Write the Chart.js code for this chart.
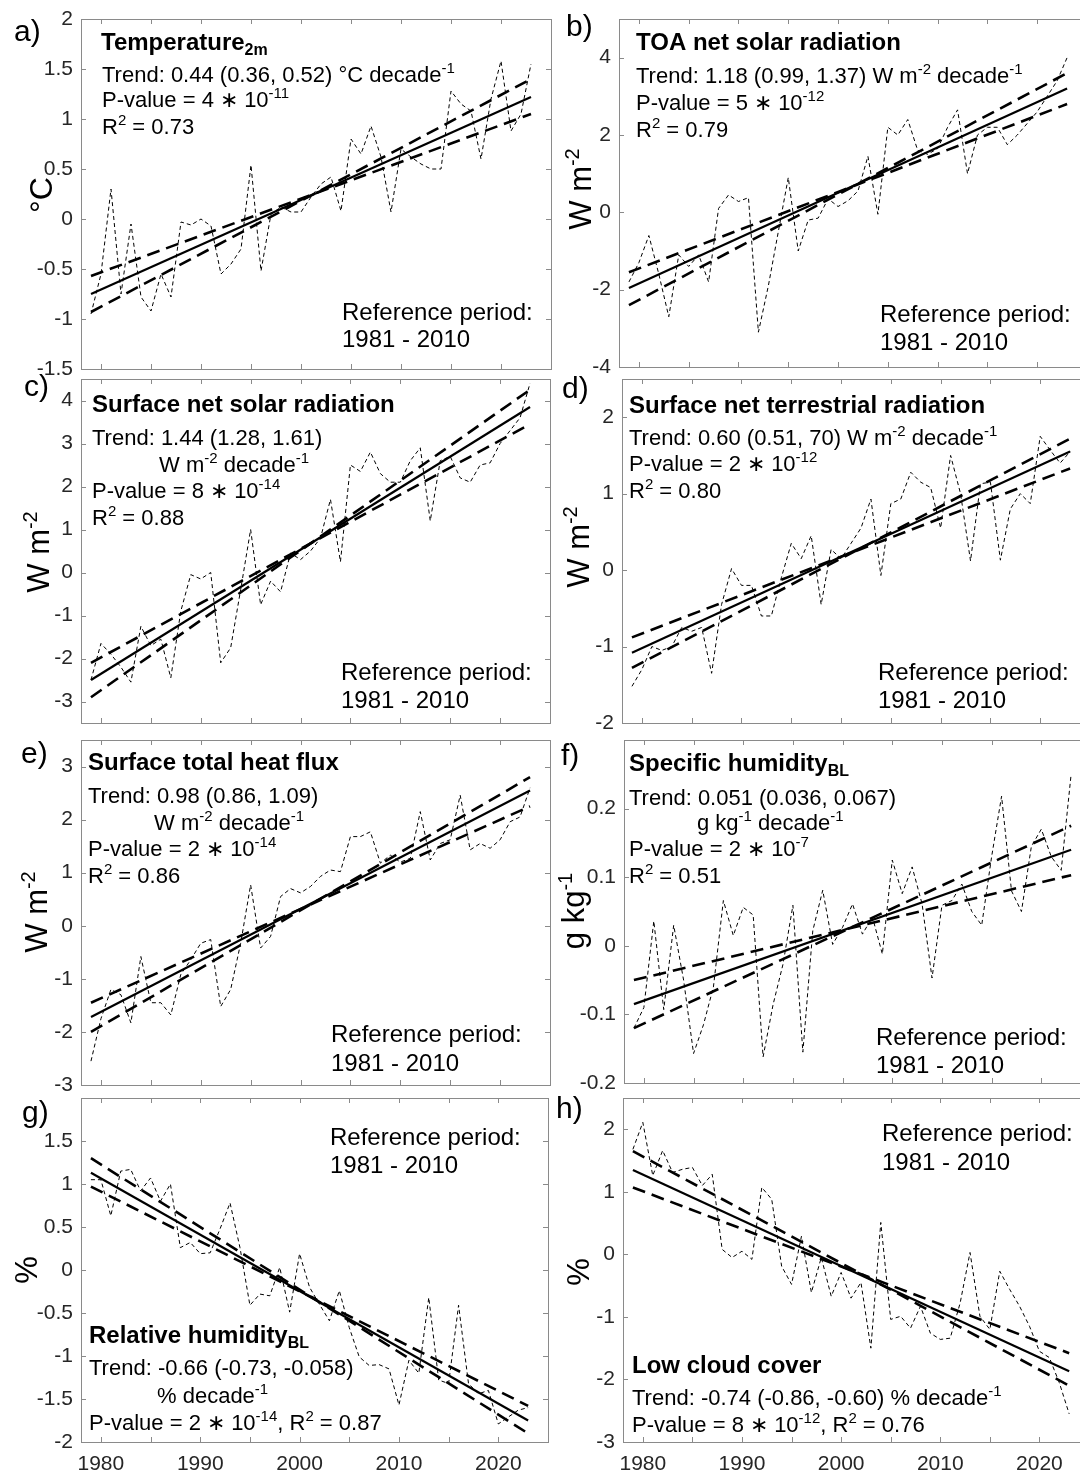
<!DOCTYPE html>
<html>
<head>
<meta charset="utf-8">
<script src="https://cdn.jsdelivr.net/npm/chart.js@4.4.1/dist/chart.umd.min.js"></script>
<style>
  html, body { margin: 0; padding: 0; background: #fff; }
  body { width: 1080px; height: 1473px; overflow: hidden; position: relative; }
  canvas { position: absolute; }
</style>
</head>
<body>
<script>
// ---- data ----
const years = [1979, 1980, 1981, 1982, 1983, 1984, 1985, 1986, 1987, 1988,
  1989, 1990, 1991, 1992, 1993, 1994, 1995, 1996, 1997, 1998,
  1999, 2000, 2001, 2002, 2003, 2004, 2005, 2006, 2007, 2008,
  2009, 2010, 2011, 2012, 2013, 2014, 2015, 2016, 2017, 2018,
  2019, 2020, 2021, 2022, 2023];
const trendYears = [1979, 2023];
const xTickValues = [1980, 1985, 1990, 1995, 2000, 2005, 2010, 2015, 2020];
const xTickLabels = ['1980', '', '1990', '', '2000', '', '2010', '', '2020'];

const t2mSeries = [-0.95, -0.55, 0.30, -0.75, -0.05, -0.78, -0.92, -0.55, -0.78, -0.03,
  -0.06, 0.0, -0.07, -0.55, -0.45, -0.30, 0.54, -0.52, 0.05, 0.12,
  0.07, 0.07, 0.22, 0.35, 0.42, 0.08, 0.80, 0.65, 0.93, 0.62,
  0.07, 0.70, 0.62, 0.55, 0.50, 0.50, 1.28, 1.15, 1.08, 0.60,
  1.20, 1.58, 0.88, 1.05, 1.55];
const t2mTrend = [-0.75, 1.22];
const t2mUpper = [-0.93, 1.40];
const t2mLower = [-0.57, 1.05];
const t2mTicks = [-1.5, -1, -0.5, 0, 0.5, 1, 1.5, 2];

const toaSeries = [-1.8, -1.3, -0.6, -1.6, -2.7, -1.1, -1.4, -1.1, -1.8, 0.1,
  0.45, 0.28, 0.38, -3.1, -1.9, -0.5, 0.9, -1.0, -0.2, -0.15,
  0.35, 0.15, 0.3, 0.55, 1.45, -0.05, 2.2, 2.0, 2.4, 1.6,
  1.5, 1.65, 2.2, 2.65, 1.0, 2.0, 2.2, 2.2, 1.75, 2.0,
  2.3, 2.6, 3.0, 3.4, 4.0];
const toaTrend = [-1.96, 3.2];
const toaUpper = [-2.4, 3.6];
const toaLower = [-1.55, 2.8];
const toaTicks = [-4, -2, 0, 2, 4];

const ssrSeries = [-2.5, -1.65, -1.9, -2.2, -2.55, -1.25, -1.7, -1.55, -2.45, -0.9,
  -0.05, -0.15, 0.0, -2.1, -1.75, -0.4, 1.0, -0.75, -0.2, -0.45,
  0.45, 0.3, 0.5, 0.8, 1.7, 0.25, 2.5, 2.35, 2.8, 2.3,
  2.1, 2.1, 2.6, 2.9, 1.2, 2.6, 2.7, 2.2, 2.1, 2.5,
  2.55, 3.0, 3.3, 3.6, 4.4];
const ssrTrend = [-2.5, 3.85];
const ssrUpper = [-2.9, 4.25];
const ssrLower = [-2.1, 3.45];
const ssrTicks = [-3, -2, -1, 0, 1, 2, 3, 4];

const strSeries = [-1.52, -1.3, -1.0, -1.05, -1.0, -0.75, -0.8, -0.75, -1.35, -0.45,
  0.02, -0.2, -0.2, -0.6, -0.6, -0.1, 0.35, 0.15, 0.45, -0.45,
  0.27, 0.15, 0.35, 0.55, 0.93, -0.07, 0.87, 0.93, 1.28, 1.15,
  1.08, 0.55, 1.5, 1.0, 0.12, 1.13, 1.15, 0.13, 0.8, 1.0,
  0.87, 1.75, 1.57, 1.4, 1.55];
const strTrend = [-1.08, 1.55];
const strUpper = [-1.28, 1.72];
const strLower = [-0.88, 1.33];
const strTicks = [-2, -1, 0, 1, 2];

const heatSeries = [-2.55, -1.75, -1.2, -1.3, -1.83, -0.58, -1.45, -1.45, -1.68, -0.92,
  -0.64, -0.33, -0.26, -1.52, -1.2, -0.33, 0.77, -0.42, -0.2, 0.55,
  0.7, 0.62, 0.74, 0.93, 1.05, 1.02, 1.68, 1.68, 1.77, 1.18,
  1.33, 1.2, 1.27, 2.15, 1.24, 1.55, 1.62, 2.46, 1.43, 1.55,
  1.46, 1.62, 1.96, 2.05, 2.6];
const heatTrend = [-1.72, 2.55];
const heatUpper = [-2.0, 2.8];
const heatLower = [-1.45, 2.25];
const heatTicks = [-3, -2, -1, 0, 1, 2, 3];

const qSeries = [-0.12, -0.09, 0.036, -0.093, 0.03, -0.05, -0.157, -0.115, -0.06, 0.066,
  0.015, 0.056, 0.045, -0.162, -0.086, -0.027, 0.059, -0.155, 0.022, 0.081,
  0.002, 0.027, 0.061, 0.017, 0.042, -0.012, 0.125, 0.076, 0.115, 0.061,
  -0.047, 0.059, 0.066, 0.09, 0.05, 0.03, 0.13, 0.218, 0.08, 0.05,
  0.145, 0.17, 0.13, 0.11, 0.25];
const qTrend = [-0.085, 0.14];
const qUpper = [-0.12, 0.175];
const qLower = [-0.05, 0.103];
const qTicks = [-0.2, -0.1, 0, 0.1, 0.2];

const rhSeries = [1.05, 1.05, 0.63, 1.15, 1.17, 0.92, 1.07, 0.8, 1.0, 0.26,
  0.32, 0.19, 0.2, 0.48, 0.78, 0.26, -0.41, -0.28, -0.3, 0.03,
  -0.49, 0.19, -0.2, -0.4, -0.59, -0.24, -0.67, -1.01, -1.11, -1.1,
  -1.15, -1.57, -1.05, -1.2, -0.32, -1.28, -1.32, -0.41, -1.32, -1.44,
  -1.4, -1.79, -1.71, -1.63, -1.6];
const rhTrend = [1.13, -1.75];
const rhUpper = [1.3, -1.9];
const rhLower = [0.97, -1.58];
const rhTicks = [-2, -1.5, -1, -0.5, 0, 0.5, 1, 1.5];

const lccSeries = [1.68, 2.11, 1.26, 1.66, 1.31, 1.36, 1.39, 1.1, 1.28, 0.08,
  -0.05, 0.05, -0.08, 1.07, 0.88, -0.19, -0.48, 0.29, -0.61, -0.05,
  -0.67, -0.29, -0.7, -0.45, -1.5, 0.51, -1.04, -0.99, -1.18, -0.83,
  -1.26, -1.36, -1.34, -0.78, 0.03, -0.99, -1.2, -0.27, -0.56, -0.83,
  -1.15, -1.55, -1.65, -2.05, -2.55];
const lccTrend = [1.35, -1.87];
const lccUpper = [1.65, -2.1];
const lccLower = [1.07, -1.58];
const lccTicks = [-3, -2, -1, 0, 1, 2];

// ---- styling ----
const FONT = '"Liberation Sans", Arial, Helvetica, sans-serif';
const TICK_COLOR = '#262626';
const BOX_COLOR = '#8a8a8a';
const PAD_L = 80, PAD_T = 24, PAD_R = 12, PAD_B = 36;

// panel layout: plot rectangle in page pixels, y range, texts
const panels = [
  { rect: [81, 19, 470, 350], yMin: -1.5, yMax: 2, ticks: t2mTicks,
    series: t2mSeries, trend: t2mTrend, upper: t2mUpper, lower: t2mLower, showX: false,
    texts: [
      { t: 'a)', x: 14, y: 41, size: 30 },
      { t: '°C', x: 40, y: 195, size: 32, rot: true },
      { t: 'Temperature_{2m}', x: 101, y: 50, size: 24, bold: true },
      { t: 'Trend: 0.44 (0.36, 0.52) °C decade^{-1}', x: 102, y: 82 },
      { t: 'P-value = 4 ∗ 10^{-11}', x: 102, y: 107 },
      { t: 'R^{2} = 0.73', x: 102, y: 134 },
      { t: 'Reference period:', x: 342, y: 320, size: 24 },
      { t: '1981 - 2010', x: 342, y: 347, size: 24 }
    ] },
  { rect: [619, 19, 468, 348], yMin: -4, yMax: 5, ticks: toaTicks,
    series: toaSeries, trend: toaTrend, upper: toaUpper, lower: toaLower, showX: false,
    texts: [
      { t: 'b)', x: 566, y: 36, size: 30 },
      { t: 'W m^{-2}', x: 580, y: 189, size: 31, rot: true },
      { t: 'TOA net solar radiation', x: 636, y: 50, size: 24, bold: true },
      { t: 'Trend: 1.18 (0.99, 1.37) W m^{-2} decade^{-1}', x: 636, y: 83 },
      { t: 'P-value = 5 ∗ 10^{-12}', x: 636, y: 110 },
      { t: 'R^{2} = 0.79', x: 636, y: 137 },
      { t: 'Reference period:', x: 880, y: 322, size: 24 },
      { t: '1981 - 2010', x: 880, y: 350, size: 24 }
    ] },
  { rect: [81, 379, 469, 344], yMin: -3.5, yMax: 4.5, ticks: ssrTicks,
    series: ssrSeries, trend: ssrTrend, upper: ssrUpper, lower: ssrLower, showX: false,
    texts: [
      { t: 'c)', x: 24, y: 396, size: 30 },
      { t: 'W m^{-2}', x: 38, y: 552, size: 31, rot: true },
      { t: 'Surface net solar radiation', x: 92, y: 412, size: 24, bold: true },
      { t: 'Trend: 1.44 (1.28, 1.61)', x: 92, y: 445 },
      { t: 'W m^{-2} decade^{-1}', x: 159, y: 472 },
      { t: 'P-value = 8 ∗ 10^{-14}', x: 92, y: 498 },
      { t: 'R^{2} = 0.88', x: 92, y: 525 },
      { t: 'Reference period:', x: 341, y: 680, size: 24 },
      { t: '1981 - 2010', x: 341, y: 708, size: 24 }
    ] },
  { rect: [622, 379, 468, 344], yMin: -2, yMax: 2.5, ticks: strTicks,
    series: strSeries, trend: strTrend, upper: strUpper, lower: strLower, showX: false,
    texts: [
      { t: 'd)', x: 562, y: 398, size: 30 },
      { t: 'W m^{-2}', x: 578, y: 547, size: 31, rot: true },
      { t: 'Surface net terrestrial radiation', x: 629, y: 413, size: 24, bold: true },
      { t: 'Trend: 0.60 (0.51, 70) W m^{-2} decade^{-1}', x: 629, y: 445 },
      { t: 'P-value = 2 ∗ 10^{-12}', x: 629, y: 471 },
      { t: 'R^{2} = 0.80', x: 629, y: 498 },
      { t: 'Reference period:', x: 878, y: 680, size: 24 },
      { t: '1981 - 2010', x: 878, y: 708, size: 24 }
    ] },
  { rect: [81, 740, 469, 345], yMin: -3, yMax: 3.5, ticks: heatTicks,
    series: heatSeries, trend: heatTrend, upper: heatUpper, lower: heatLower, showX: false,
    texts: [
      { t: 'e)', x: 21, y: 763, size: 30 },
      { t: 'W m^{-2}', x: 36, y: 912, size: 31, rot: true },
      { t: 'Surface total heat flux', x: 88, y: 770, size: 24, bold: true },
      { t: 'Trend: 0.98 (0.86, 1.09)', x: 88, y: 803 },
      { t: 'W m^{-2} decade^{-1}', x: 154, y: 830 },
      { t: 'P-value = 2 ∗ 10^{-14}', x: 88, y: 856 },
      { t: 'R^{2} = 0.86', x: 88, y: 883 },
      { t: 'Reference period:', x: 331, y: 1042, size: 24 },
      { t: '1981 - 2010', x: 331, y: 1071, size: 24 }
    ] },
  { rect: [624, 740, 467, 343], yMin: -0.2, yMax: 0.3, ticks: qTicks,
    series: qSeries, trend: qTrend, upper: qUpper, lower: qLower, showX: false,
    texts: [
      { t: 'f)', x: 561, y: 765, size: 30 },
      { t: 'g kg^{-1}', x: 573, y: 911, size: 31, rot: true },
      { t: 'Specific humidity_{BL}', x: 629, y: 771, size: 24, bold: true },
      { t: 'Trend: 0.051 (0.036, 0.067)', x: 629, y: 805 },
      { t: 'g kg^{-1} decade^{-1}', x: 697, y: 830 },
      { t: 'P-value = 2 ∗ 10^{-7}', x: 629, y: 856 },
      { t: 'R^{2} = 0.51', x: 629, y: 883 },
      { t: 'Reference period:', x: 876, y: 1045, size: 24 },
      { t: '1981 - 2010', x: 876, y: 1073, size: 24 }
    ] },
  { rect: [81, 1098, 467, 344], yMin: -2, yMax: 2, ticks: rhTicks,
    series: rhSeries, trend: rhTrend, upper: rhUpper, lower: rhLower, showX: true,
    texts: [
      { t: 'g)', x: 22, y: 1122, size: 30 },
      { t: '%', x: 26, y: 1270, size: 31, rot: true },
      { t: 'Reference period:', x: 330, y: 1145, size: 24 },
      { t: '1981 - 2010', x: 330, y: 1173, size: 24 },
      { t: 'Relative humidity_{BL}', x: 89, y: 1343, size: 24, bold: true },
      { t: 'Trend: -0.66 (-0.73, -0.058)', x: 89, y: 1375 },
      { t: '% decade^{-1}', x: 157, y: 1403 },
      { t: 'P-value = 2 ∗ 10^{-14}, R^{2} = 0.87', x: 89, y: 1430 }
    ] },
  { rect: [623, 1098, 466, 344], yMin: -3, yMax: 2.5, ticks: lccTicks,
    series: lccSeries, trend: lccTrend, upper: lccUpper, lower: lccLower, showX: true,
    texts: [
      { t: 'h)', x: 556, y: 1118, size: 30 },
      { t: '%', x: 578, y: 1272, size: 31, rot: true },
      { t: 'Reference period:', x: 882, y: 1141, size: 24 },
      { t: '1981 - 2010', x: 882, y: 1170, size: 24 },
      { t: 'Low cloud cover', x: 632, y: 1373, size: 24, bold: true },
      { t: 'Trend: -0.74 (-0.86, -0.60) % decade^{-1}', x: 632, y: 1405 },
      { t: 'P-value = 8 ∗ 10^{-12}, R^{2} = 0.76', x: 632, y: 1432 }
    ] }
];

// split "text^{sup}_{sub}" into runs
function parseRich(str) {
  const parts = [];
  const re = /([\^_])\{([^}]*)\}/g;
  let last = 0, m;
  while ((m = re.exec(str))) {
    if (m.index > last) parts.push({ s: str.slice(last, m.index), k: 'n' });
    parts.push({ s: m[2], k: m[1] === '^' ? 'sup' : 'sub' });
    last = re.lastIndex;
  }
  if (last < str.length) parts.push({ s: str.slice(last), k: 'n' });
  return parts;
}

function drawRich(ctx, str, x, y, size, bold, measureOnly) {
  let cx = x;
  parseRich(str).forEach(p => {
    const fs = p.k === 'n' ? size : Math.round(size * 0.66);
    ctx.font = (bold ? 'bold ' : '') + fs + 'px ' + FONT;
    const dy = p.k === 'sup' ? -size * 0.4 : (p.k === 'sub' ? size * 0.22 : 0);
    if (!measureOnly) ctx.fillText(p.s, cx, y + dy);
    cx += ctx.measureText(p.s).width;
  });
  return cx - x;
}

function makeDecor(panel, offX, offY) {
  return {
    id: 'decor',
    afterDatasetsDraw(chart) {
      const ctx = chart.ctx;
      const a = chart.chartArea;
      const xs = chart.scales.x, ys = chart.scales.y;
      ctx.save();
      ctx.strokeStyle = BOX_COLOR;
      ctx.lineWidth = 1;
      ctx.strokeRect(Math.round(a.left) + 0.5, Math.round(a.top) + 0.5,
        Math.round(a.right - a.left), Math.round(a.bottom - a.top));
      ctx.beginPath();
      xTickValues.forEach(v => {
        const px = Math.round(xs.getPixelForValue(v)) + 0.5;
        ctx.moveTo(px, a.bottom); ctx.lineTo(px, a.bottom - 5);
        ctx.moveTo(px, a.top); ctx.lineTo(px, a.top + 5);
      });
      panel.ticks.forEach(v => {
        const py = Math.round(ys.getPixelForValue(v)) + 0.5;
        ctx.moveTo(a.left, py); ctx.lineTo(a.left + 5, py);
        ctx.moveTo(a.right, py); ctx.lineTo(a.right - 5, py);
      });
      ctx.stroke();
      ctx.restore();
    },
    afterDraw(chart) {
      const ctx = chart.ctx;
      ctx.save();
      ctx.fillStyle = '#000';
      ctx.textBaseline = 'alphabetic';
      ctx.textAlign = 'left';
      panel.texts.forEach(tx => {
        const size = tx.size || 22;
        const x = tx.x - offX, y = tx.y - offY;
        if (tx.rot) {
          const w = drawRich(ctx, tx.t, 0, 0, size, tx.bold, true);
          ctx.save();
          ctx.translate(x, y);
          ctx.rotate(-Math.PI / 2);
          drawRich(ctx, tx.t, -w / 2, size * 0.36, size, tx.bold, false);
          ctx.restore();
        } else {
          drawRich(ctx, tx.t, x, y, size, tx.bold, false);
        }
      });
      ctx.restore();
    }
  };
}

panels.forEach(p => {
  const [l, t, w, h] = p.rect;
  const cv = document.createElement('canvas');
  const offX = l - PAD_L, offY = t - PAD_T;
  cv.width = PAD_L + w + PAD_R;
  cv.height = PAD_T + h + PAD_B;
  cv.style.left = offX + 'px';
  cv.style.top = offY + 'px';
  document.body.appendChild(cv);

  const line = (vals, xsArr) => xsArr.map((x, i) => ({ x: x, y: vals[i] }));

  new Chart(cv, {
    type: 'line',
    data: {
      datasets: [
        { data: line(p.series, years), borderColor: '#000', borderWidth: 1,
          borderDash: [4, 3], pointRadius: 0, tension: 0 },
        { data: line(p.upper, trendYears), borderColor: '#000', borderWidth: 2.6,
          borderDash: [13, 7], pointRadius: 0 },
        { data: line(p.lower, trendYears), borderColor: '#000', borderWidth: 2.6,
          borderDash: [13, 7], pointRadius: 0 },
        { data: line(p.trend, trendYears), borderColor: '#000', borderWidth: 2.2,
          pointRadius: 0 }
      ]
    },
    options: {
      responsive: false,
      animation: false,
      events: [],
      layout: { padding: { left: 0, top: PAD_T, right: PAD_R, bottom: 0 } },
      plugins: { legend: { display: false }, tooltip: { enabled: false } },
      scales: {
        x: {
          type: 'linear', min: 1978, max: 2025,
          afterBuildTicks: s => { s.ticks = xTickValues.map(v => ({ value: v })); },
          afterFit: s => { s.height = PAD_B; },
          grid: { display: false, drawTicks: false },
          border: { display: false },
          ticks: {
            display: p.showX, autoSkip: false, maxRotation: 0, padding: 10,
            color: TICK_COLOR, font: { family: FONT, size: 21 },
            callback: (v, i) => xTickLabels[i]
          }
        },
        y: {
          type: 'linear', min: p.yMin, max: p.yMax,
          afterBuildTicks: s => { s.ticks = p.ticks.map(v => ({ value: v })); },
          afterFit: s => { s.width = PAD_L; },
          grid: { display: false, drawTicks: false },
          border: { display: false },
          ticks: {
            padding: 8, color: TICK_COLOR, font: { family: FONT, size: 21 },
            callback: v => String(v)
          }
        }
      }
    },
    plugins: [makeDecor(p, offX, offY)]
  });
});
</script>
</body>
</html>
